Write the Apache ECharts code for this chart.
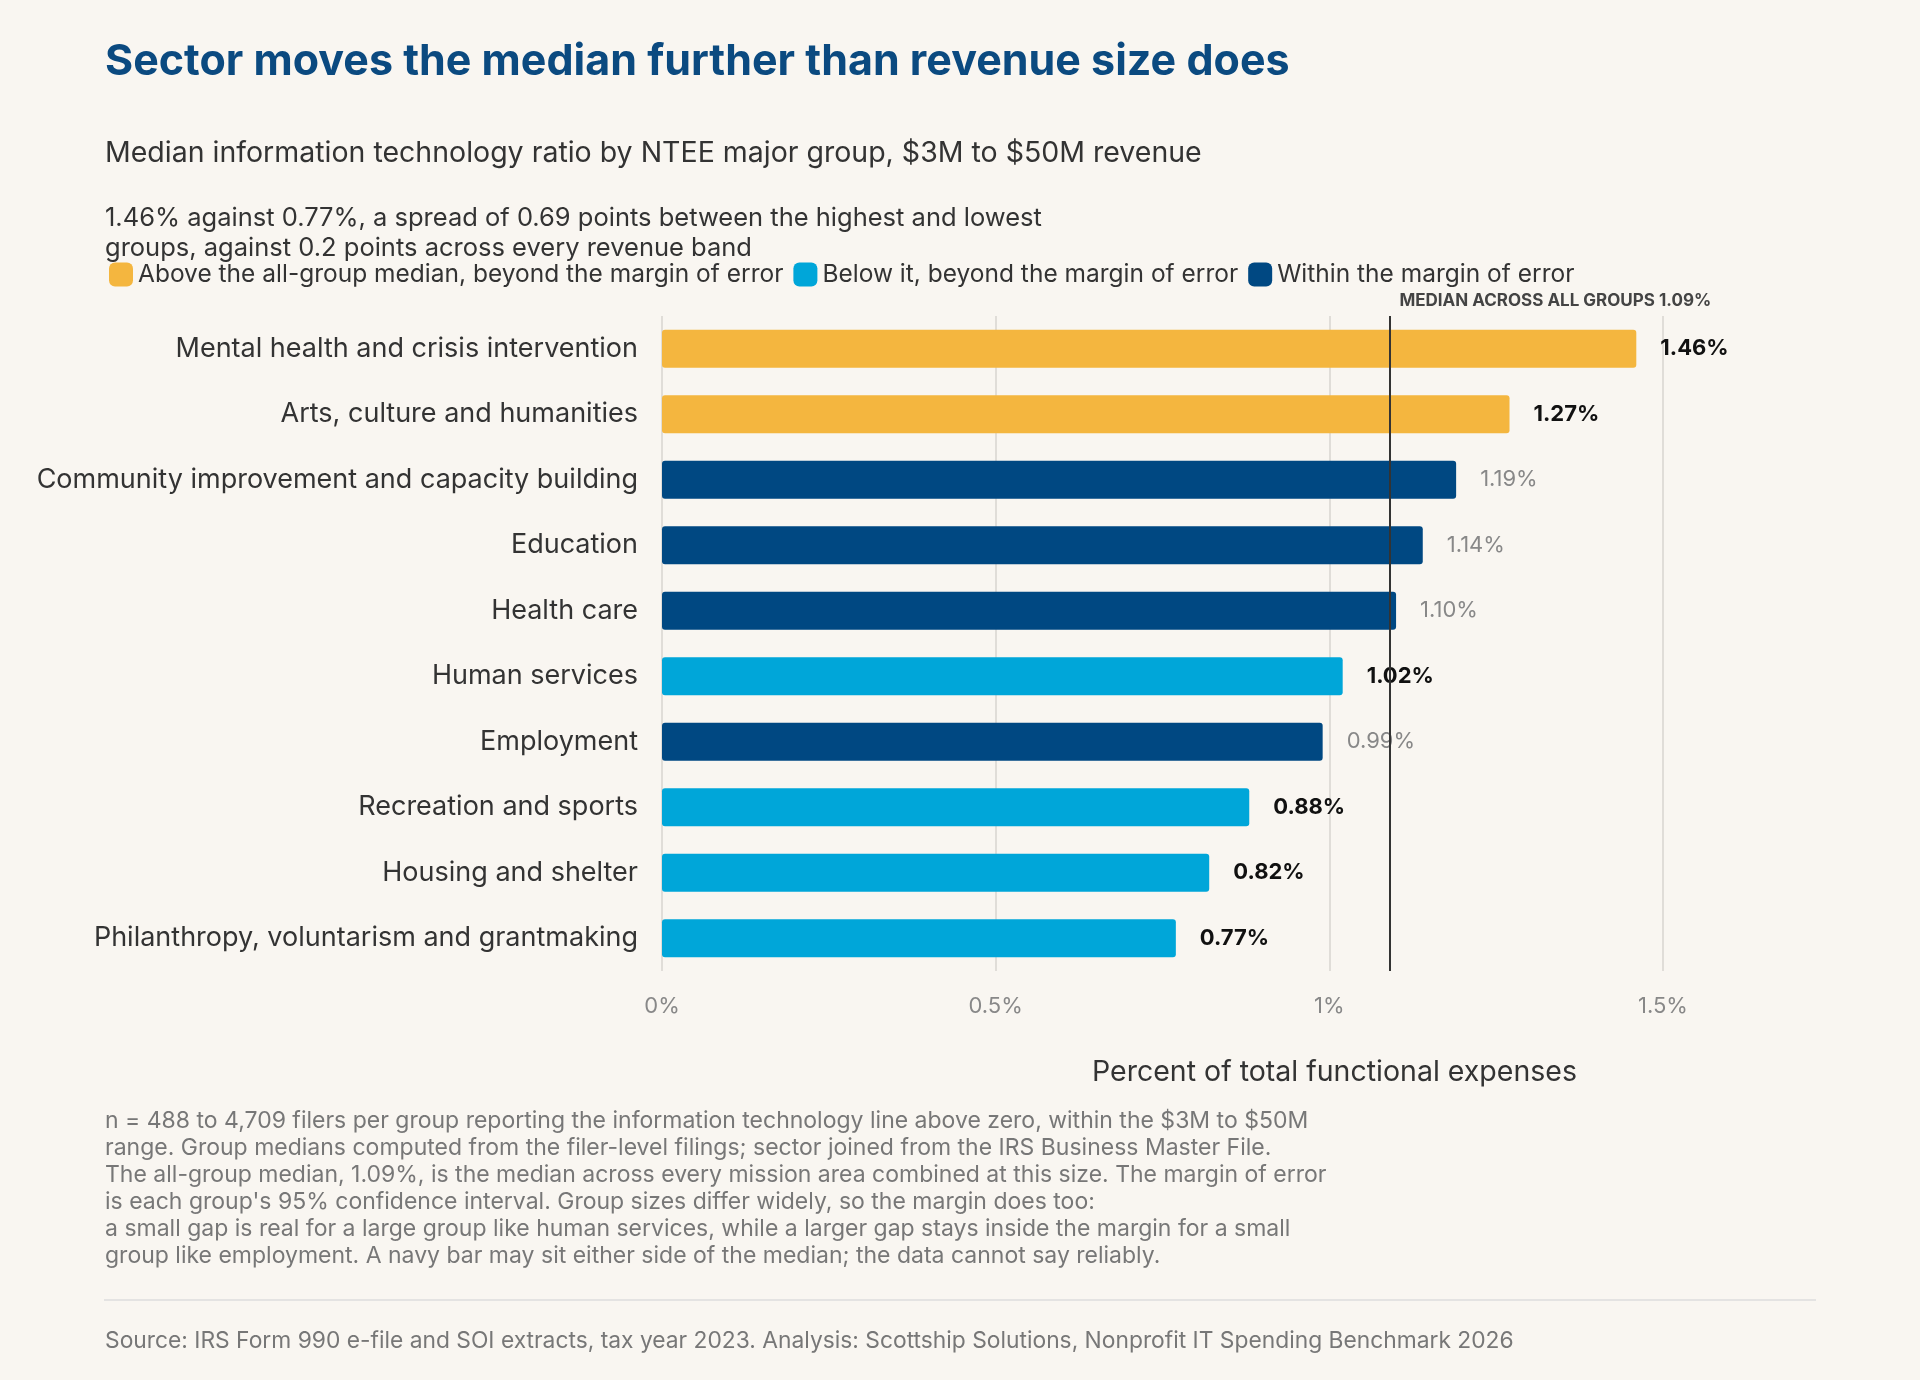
<!DOCTYPE html>
<html><head><meta charset="utf-8">
<script src="https://cdn.jsdelivr.net/npm/echarts@6/dist/echarts.min.js"></script>
<style>html,body{margin:0;background:#f9f6f1}#main{width:1920px;height:1380px}</style>
</head><body><div id="main"></div>
<script>
var categories = ["Mental health and crisis intervention","Arts, culture and humanities","Community improvement and capacity building","Education","Health care","Human services","Employment","Recreation and sports","Housing and shelter","Philanthropy, voluntarism and grantmaking"];
var values = [1.46,1.27,1.19,1.14,1.10,1.02,0.99,0.88,0.82,0.77];
// a = above, b = below, w = within margin
var groups = ["a","a","w","w","w","b","w","b","b","b"];
var median = 1.09;
var tickLabels = {0:"0%",0.5:"0.5%",1:"1%",1.5:"1.5%"};

var font = "Inter, 'Noto Sans', sans-serif";
function pick(g){ return values.map(function(v,i){ return groups[i]===g ? v : null; }); }
function lbl(bold){
  return {show:true,position:"right",distance:24,fontFamily:font,fontSize:22,
    fontWeight:bold?"bold":"normal",color:bold?"#111":"#888",
    formatter:function(p){return p.value.toFixed(2)+"%";}};
}
var chart = echarts.init(document.getElementById("main"));
chart.setOption({
  backgroundColor:"#f9f6f1",
  textStyle:{fontFamily:font},
  title:[
    {text:"Sector moves the median further than revenue size does",left:100,top:36,
     textStyle:{fontFamily:font,fontSize:43,fontWeight:"bold",color:"#0b4a80"}},
    {text:"Median information technology ratio by NTEE major group, $3M to $50M revenue",left:100,top:134,
     textStyle:{fontFamily:font,fontSize:28.5,fontWeight:"normal",color:"#333"}},
    {text:"1.46% against 0.77%, a spread of 0.69 points between the highest and lowest\ngroups, against 0.2 points across every revenue band",left:100,top:198,
     textStyle:{fontFamily:font,fontSize:25.5,fontWeight:"normal",color:"#333",lineHeight:30}},
    {text:"n = 488 to 4,709 filers per group reporting the information technology line above zero, within the $3M to $50M\nrange. Group medians computed from the filer-level filings; sector joined from the IRS Business Master File.\nThe all-group median, 1.09%, is the median across every mission area combined at this size. The margin of error\nis each group's 95% confidence interval. Group sizes differ widely, so the margin does too:\na small gap is real for a large group like human services, while a larger gap stays inside the margin for a small\ngroup like employment. A navy bar may sit either side of the median; the data cannot say reliably.",
     left:100,top:1103,textStyle:{fontFamily:font,fontSize:23,fontWeight:"normal",color:"#777",lineHeight:27}},
    {text:"Source: IRS Form 990 e-file and SOI extracts, tax year 2023. Analysis: Scottship Solutions, Nonprofit IT Spending Benchmark 2026",
     left:100,top:1325,textStyle:{fontFamily:font,fontSize:22.8,fontWeight:"normal",color:"#777"}}
  ],
  graphic:[{type:"line",shape:{x1:104,y1:1300,x2:1816,y2:1300},style:{stroke:"#ddd",lineWidth:1.5}}],
  legend:{left:104,top:257,itemWidth:24,itemHeight:24,itemGap:10,icon:"roundRect",
    textStyle:{fontFamily:font,fontSize:24.5,color:"#333"},
    data:["Above the all-group median, beyond the margin of error","Below it, beyond the margin of error","Within the margin of error"]},
  grid:{left:662,right:257,top:316,height:655},
  xAxis:{type:"value",min:0,max:1.5,interval:0.5,
    name:"Percent of total functional expenses",nameLocation:"middle",nameGap:87,
    nameTextStyle:{fontFamily:font,fontSize:28.5,color:"#333",padding:[0,0,0,344]},
    axisLine:{show:false},axisTick:{show:false},
    axisLabel:{fontFamily:font,fontSize:22,color:"#888",margin:24,formatter:function(v){return tickLabels[v];}},
    splitLine:{lineStyle:{color:"#e0ddd8",width:2}}},
  yAxis:{type:"category",inverse:true,data:categories,
    axisLine:{show:false},axisTick:{show:false},
    axisLabel:{fontFamily:font,fontSize:27,color:"#333",margin:24}},
  series:[
    {name:"Above the all-group median, beyond the margin of error",type:"bar",stack:"s",data:pick("a"),
     barWidth:38,itemStyle:{color:"#f4b63f",borderRadius:3},label:lbl(true),
     markLine:{symbol:"none",silent:true,data:[{xAxis:median}],
       lineStyle:{color:"#333",width:2,type:"solid"},
       label:{position:"start",formatter:"MEDIAN ACROSS ALL GROUPS 1.09%",fontFamily:font,fontSize:17,fontWeight:"bold",color:"#444",align:"left",offset:[10,-2]}}},
    {name:"Below it, beyond the margin of error",type:"bar",stack:"s",data:pick("b"),
     barWidth:38,itemStyle:{color:"#00a6d9",borderRadius:3},label:lbl(true)},
    {name:"Within the margin of error",type:"bar",stack:"s",data:pick("w"),
     barWidth:38,itemStyle:{color:"#004882",borderRadius:3},label:lbl(false)}
  ]
});
</script></body></html>
